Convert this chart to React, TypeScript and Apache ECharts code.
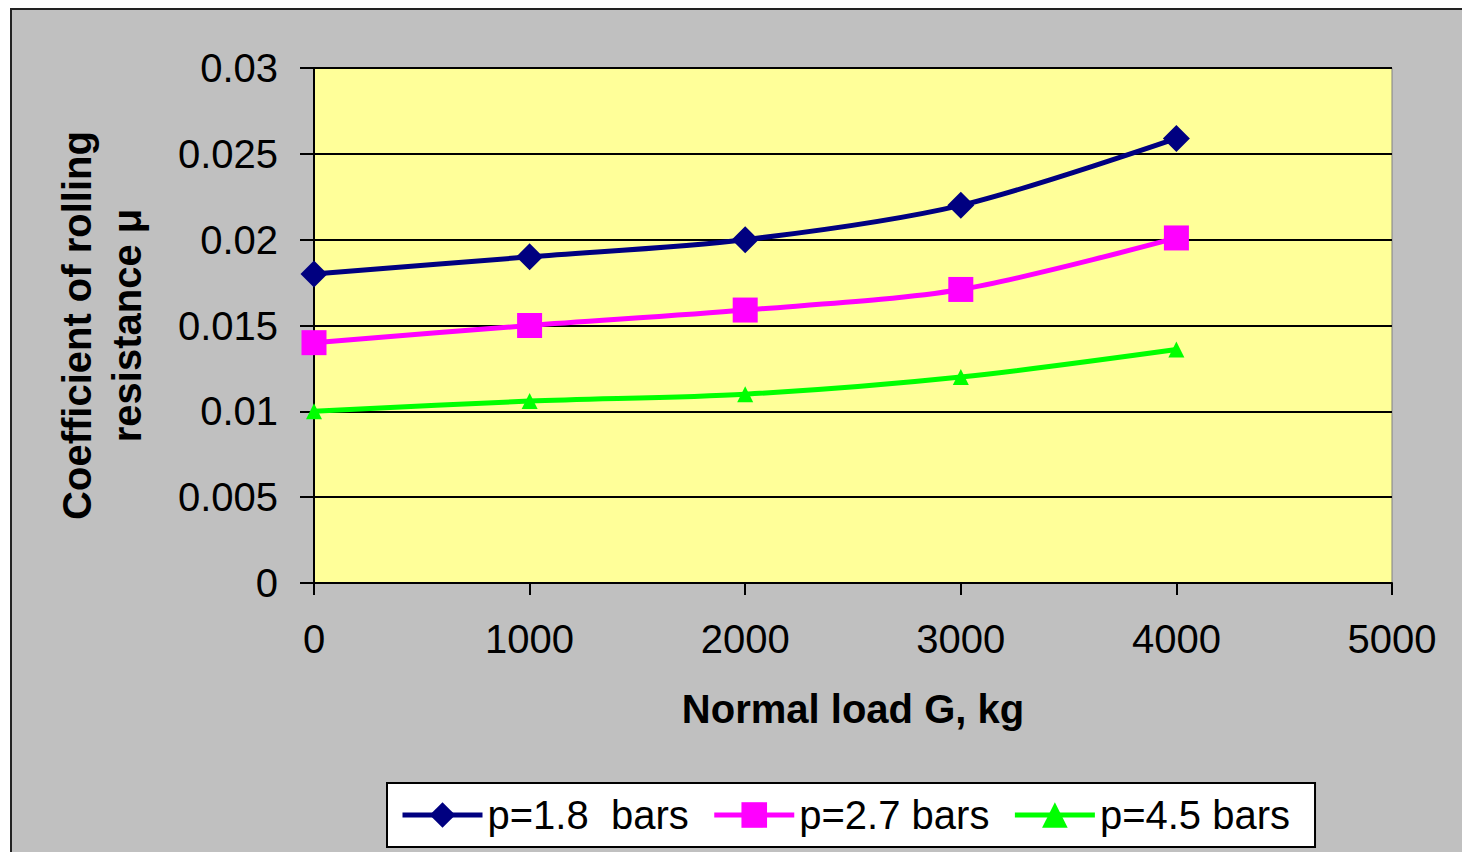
import React, { useEffect, useRef } from "react";
import * as echarts from "echarts";

const loads = [0, 1000, 2000, 3000, 4000];
const p18 = [0.018, 0.019, 0.02, 0.022, 0.0259];
const p27 = [0.014, 0.015, 0.0159, 0.0171, 0.0201];
const p45 = [0.01, 0.0106, 0.011, 0.012, 0.0136];
const seriesNames = ["p=1.8  bars", "p=2.7 bars", "p=4.5 bars"];

const FONT = "'Liberation Sans', Arial, sans-serif";

export default function App() {
  const ref = useRef<HTMLDivElement>(null);
  useEffect(() => {
    if (!ref.current) return;
    const chart = echarts.init(ref.current, undefined, { renderer: "svg" });
    const pair = (arr: number[]) => loads.map((x, i) => [x, arr[i]]);
    chart.setOption({
      animation: false,
      backgroundColor: "#ffffff",
      textStyle: { fontFamily: FONT },
      graphic: [
        {
          type: "rect",
          z: -10,
          silent: true,
          shape: { x: 11, y: 9, width: 1470, height: 860 },
          style: { fill: "#C0C0C0", stroke: "#222222", lineWidth: 2 },
        },
      ],
      grid: {
        left: 314,
        top: 68,
        right: 70,
        bottom: 269,
        show: true,
        backgroundColor: "#FFFF99",
        borderColor: "#808080",
        borderWidth: 1,
      },
      xAxis: {
        type: "value",
        min: 0,
        max: 5000,
        interval: 1000,
        name: "Normal load G, kg",
        nameLocation: "middle",
        nameGap: 106,
        nameTextStyle: { fontSize: 40, fontWeight: "bold", color: "#000", fontFamily: FONT },
        axisLine: { show: true, lineStyle: { color: "#000", width: 2 } },
        axisTick: { show: true, length: 12, lineStyle: { color: "#000", width: 2 } },
        axisLabel: {
          fontSize: 40,
          color: "#000",
          margin: 36,
          fontFamily: FONT,
          formatter: (v: number) => String(v),
        },
        splitLine: { show: false },
      },
      yAxis: {
        type: "value",
        min: 0,
        max: 0.03,
        interval: 0.005,
        name: "Coefficient of rolling\nresistance μ",
        nameLocation: "middle",
        nameGap: 162,
        nameTextStyle: { fontSize: 40, fontWeight: "bold", color: "#000", lineHeight: 50, fontFamily: FONT },
        axisLine: { show: true, lineStyle: { color: "#000", width: 2 } },
        axisTick: { show: true, length: 14, lineStyle: { color: "#000", width: 2 } },
        axisLabel: {
          fontSize: 40,
          color: "#000",
          margin: 36,
          fontFamily: FONT,
          formatter: (v: number) => String(v),
        },
        splitLine: { show: true, lineStyle: { color: "#000", width: 2 } },
      },
      legend: {
        left: 387,
        top: 783,
        padding: [12, 25, 12, 13],
        backgroundColor: "#ffffff",
        borderColor: "#000",
        borderWidth: 2,
        itemWidth: 80,
        itemHeight: 32,
        itemGap: 23,
        lineStyle: { width: 5 },
        textStyle: { fontSize: 40, color: "#000", fontFamily: FONT },
        data: seriesNames,
      },
      series: [
        {
          name: seriesNames[0],
          type: "line",
          data: pair(p18),
          smooth: 0.3,
          symbol: "diamond",
          symbolSize: 27,
          color: "#000080",
          lineStyle: { width: 5, color: "#000080" },
          itemStyle: { color: "#000080" },
        },
        {
          name: seriesNames[1],
          type: "line",
          data: pair(p27),
          smooth: 0.3,
          symbol: "rect",
          symbolSize: 25,
          color: "#FF00FF",
          lineStyle: { width: 5, color: "#FF00FF" },
          itemStyle: { color: "#FF00FF" },
        },
        {
          name: seriesNames[2],
          type: "line",
          data: pair(p45),
          smooth: 0.3,
          symbol: "triangle",
          symbolSize: 16,
          color: "#00FF00",
          lineStyle: { width: 5, color: "#00FF00" },
          itemStyle: { color: "#00FF00" },
        },
      ],
    });
    return () => chart.dispose();
  }, []);
  return (
    <div
      ref={ref}
      style={{ position: "absolute", left: 0, top: 0, width: 1462, height: 852 }}
    />
  );
}
